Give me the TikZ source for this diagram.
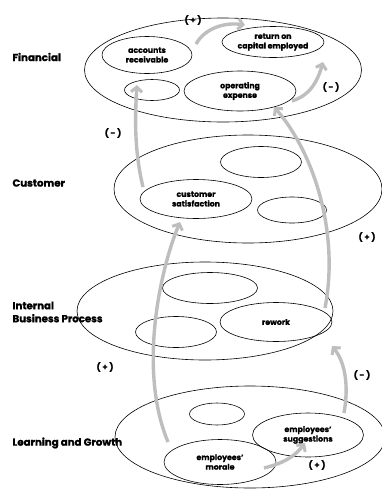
\documentclass[tikz,border=0pt]{standalone}
\usepackage{fontspec}
\setmainfont{Poppins}[BoldFeatures={FakeBold=1.2}]
\usetikzlibrary{shapes.geometric,arrows.meta}
\definecolor{flowgray}{HTML}{BEBEBE}
\tikzset{
  oval/.style={draw=black, line width=0.6pt, ellipse, inner sep=0pt, align=center,
    font=\bfseries\fontsize{7.8}{9.6}\selectfont},
  persp/.style={anchor=west, align=left, font=\bfseries\fontsize{10.2}{13}\selectfont},
  sign/.style={font=\bfseries\fontsize{8.5}{9}\selectfont},
  flow/.style={draw=flowgray, line width=3.4pt,
    -{Straight Barb[length=5pt,width=11pt,line width=3pt]}}
}
\begin{document}
\begin{tikzpicture}[x=1pt,y=-1pt]
\useasboundingbox (0,0) rectangle (381,491);
\fill[white] (0,0) rectangle (381,491);

% perspective names
\node[persp] (lfin) at (9,57) {Financial};
\node[persp] (lcus) at (9,183) {Customer};
\node[persp] (lint) at (9,312) {Internal\\Business Process};
\node[persp] (llea) at (9,443) {Learning and Growth};

% Financial
\node[oval, minimum width=277pt, minimum height=104pt] (fin) at (223,70) {};
\node[oval, minimum width=90pt, minimum height=37pt] (ar) at (147,55) {accounts\\receivable};
\node[oval, minimum width=102pt, minimum height=31pt] (rce) at (273,42) {return on\\capital employed};
\node[oval, minimum width=55pt, minimum height=21pt] (fs) at (152,90) {};
\node[oval, minimum width=112pt, minimum height=40pt] (oe) at (240,91) {operating\\expense};

% Customer
\node[oval, minimum width=268pt, minimum height=108pt] (cus) at (248,189) {};
\node[oval, minimum width=112pt, minimum height=39pt] (cs) at (196,199) {customer\\satisfaction};
\node[oval, minimum width=81pt, minimum height=31pt] (c1) at (261,162) {};
\node[oval, minimum width=69pt, minimum height=26pt] (c2) at (292,210) {};

% Internal Business Process
\node[oval, minimum width=256pt, minimum height=98pt] (ibp) at (205,311) {};
\node[oval, minimum width=95pt, minimum height=31pt] (i1) at (210,288) {};
\node[oval, minimum width=81pt, minimum height=31pt] (i2) at (176,332) {};
\node[oval, minimum width=112pt, minimum height=39pt] (rw) at (276,322) {rework};

% Learning and Growth
\node[oval, minimum width=270pt, minimum height=102pt] (lg) at (250,437) {};
\node[oval, minimum width=55pt, minimum height=22pt] (l1) at (217,414) {};
\node[oval, minimum width=111pt, minimum height=44pt] (es) at (308,435) {employees'\\suggestions};
\node[oval, minimum width=112pt, minimum height=45pt] (em) at (220,462) {employees'\\morale};

% arrow end points
\coordinate (t1) at (137,85);
\coordinate (t2) at (274,107);
\coordinate (t3) at (332,346);
\coordinate (t4) at (180,222);
\coordinate (t5) at (305,443);
\coordinate (t6) at (245,25);
\coordinate (t7) at (323,62);
\coordinate (s1) at (143,187);
\coordinate (s2) at (325,308);
\coordinate (s3) at (344,413);
\coordinate (s4) at (168,442);
\coordinate (s5) at (264,468);
\coordinate (s6) at (196,44);
\coordinate (s7) at (292,101);

% cause-and-effect links
\draw[flow] (s1) .. controls (134,150) and (135,115) .. (t1);
\draw[flow] (s2) .. controls (340,230) and (312,150) .. (t2);
\draw[flow] (s3) .. controls (349,385) and (345,362) .. (t3);
\draw[flow] (s4) .. controls (138,370) and (160,270) .. (t4);
\draw[flow] (s5) .. controls (285,463) and (296,455) .. (t5);
\draw[flow] (s6) .. controls (205,28) and (225,22) .. (t6);
\draw[flow] (s7) .. controls (311,95) and (318,80) .. (t7);

% link signs
\node[sign] (p1) at (193,20) {( + )};
\node[sign] (m1) at (331,87) {( - )};
\node[sign] (m2) at (113,133) {( - )};
\node[sign] (p2) at (367,237) {( + )};
\node[sign] (p3) at (105,367) {( + )};
\node[sign] (m3) at (362,375) {( - )};
\node[sign] (p4) at (317,465) {( + )};
\end{tikzpicture}
\end{document}
